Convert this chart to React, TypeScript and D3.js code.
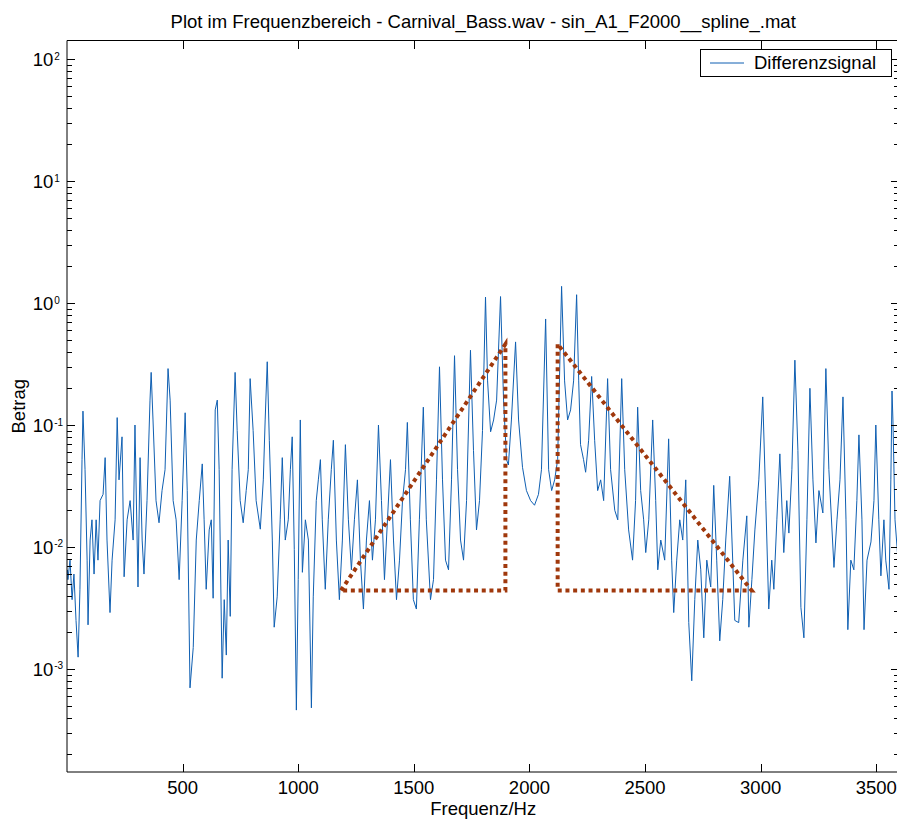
import * as d3 from 'd3';
import { useEffect, useRef } from 'react';

// Spectrum of the difference signal (Hz / magnitude)
const frequenz = [
  2, 4, 13, 22, 30, 39, 48, 56, 65, 69,
  78, 87, 91, 100, 108, 117, 126, 134, 143, 156,
  165, 173, 186, 195, 208, 217, 225, 238, 247, 260,
  273, 286, 294, 307, 316, 325, 333, 346, 359, 364,
  372, 385, 398, 411, 424, 437, 446, 459, 472, 485,
  498, 511, 520, 532, 546, 559, 572, 585, 593, 602,
  615, 624, 632, 641, 650, 658, 671, 680, 689, 697,
  706, 714, 727, 736, 749, 762, 775, 784, 792, 805,
  818, 836, 849, 857, 866, 875, 888, 896, 909, 922,
  931, 944, 957, 966, 974, 983, 992, 1000, 1009, 1018,
  1031, 1044, 1057, 1065, 1078, 1087, 1096, 1104, 1117, 1130,
  1143, 1152, 1165, 1178, 1191, 1204, 1217, 1230, 1243, 1256,
  1269, 1282, 1295, 1308, 1321, 1334, 1347, 1360, 1373, 1386,
  1399, 1412, 1425, 1438, 1451, 1464, 1472, 1485, 1498, 1511,
  1524, 1541, 1554, 1572, 1585, 1598, 1611, 1624, 1637, 1650,
  1663, 1676, 1689, 1702, 1715, 1728, 1745, 1758, 1771, 1784,
  1797, 1810, 1819, 1832, 1845, 1858, 1875, 1888, 1901, 1909,
  1922, 1940, 1953, 1970, 1987, 2005, 2022, 2039, 2052, 2070,
  2083, 2096, 2109, 2122, 2139, 2152, 2165, 2178, 2191, 2204,
  2213, 2221, 2234, 2243, 2256, 2269, 2282, 2295, 2308, 2321,
  2338, 2351, 2369, 2382, 2399, 2412, 2429, 2446, 2459, 2468,
  2481, 2494, 2503, 2516, 2533, 2546, 2555, 2568, 2585, 2602,
  2615, 2624, 2637, 2650, 2663, 2676, 2689, 2702, 2715, 2728,
  2741, 2754, 2767, 2784, 2797, 2810, 2823, 2836, 2849, 2866,
  2879, 2888, 2905, 2923, 2940, 2949, 2962, 2975, 2992, 3009,
  3022, 3035, 3048, 3057, 3070, 3083, 3100, 3113, 3122, 3135,
  3148, 3161, 3174, 3187, 3200, 3213, 3226, 3239, 3252, 3269,
  3282, 3295, 3317, 3330, 3343, 3356, 3369, 3377, 3390, 3403,
  3416, 3425, 3438, 3447, 3460, 3477, 3490, 3498, 3511, 3520,
  3533, 3541, 3555, 3563, 3568, 3572, 3581, 3594,
];

const betrag = [
  0.0065, 0.0054, 0.0078, 0.0037, 0.006, 0.0025, 0.00125, 0.0045, 0.052, 0.13,
  0.043, 0.0078, 0.0023, 0.0114, 0.0167, 0.006, 0.0167, 0.0078, 0.024, 0.027,
  0.054, 0.0114, 0.0029, 0.0078, 0.0167, 0.115, 0.0355, 0.08, 0.0057, 0.0167,
  0.024, 0.0114, 0.1, 0.0047, 0.054, 0.0114, 0.006, 0.024, 0.16, 0.27,
  0.11, 0.024, 0.0158, 0.029, 0.043, 0.29, 0.16, 0.024, 0.0167, 0.0054,
  0.024, 0.126, 0.029, 0.0007, 0.0015, 0.0114, 0.024, 0.048, 0.0167, 0.0045,
  0.0138, 0.0167, 0.0038, 0.133, 0.16, 0.043, 0.00084, 0.0037, 0.0013, 0.0114,
  0.0027, 0.043, 0.27, 0.09, 0.024, 0.0158, 0.029, 0.043, 0.24, 0.09,
  0.024, 0.014, 0.0355, 0.11, 0.33, 0.075, 0.0114, 0.0022, 0.0039, 0.0167,
  0.054, 0.0114, 0.0167, 0.043, 0.08, 0.0095, 0.00046, 0.0054, 0.11, 0.0062,
  0.0167, 0.0114, 0.00048, 0.0039, 0.024, 0.0355, 0.052, 0.0167, 0.0045, 0.0167,
  0.043, 0.075, 0.0114, 0.0037, 0.0114, 0.069, 0.0167, 0.0065, 0.0167, 0.0355,
  0.0078, 0.0031, 0.0114, 0.024, 0.0078, 0.0167, 0.1, 0.024, 0.0054, 0.0167,
  0.052, 0.0114, 0.0037, 0.0078, 0.024, 0.043, 0.105, 0.0167, 0.0037, 0.0031,
  0.0167, 0.14, 0.0167, 0.0037, 0.0054, 0.0355, 0.3, 0.0355, 0.0078, 0.0065,
  0.0355, 0.37, 0.043, 0.0114, 0.0078, 0.024, 0.41, 0.062, 0.0138, 0.024,
  0.09, 1.12, 0.23, 0.088, 0.11, 0.16, 1.13, 0.16, 0.052, 0.047,
  0.11, 0.48, 0.11, 0.045, 0.029, 0.024, 0.022, 0.027, 0.043, 0.74,
  0.043, 0.029, 0.0355, 0.052, 1.37, 0.23, 0.11, 0.133, 0.23, 1.17,
  0.23, 0.069, 0.052, 0.041, 0.075, 0.25, 0.075, 0.029, 0.0355, 0.024,
  0.24, 0.043, 0.02, 0.0167, 0.24, 0.043, 0.0138, 0.0078, 0.024, 0.14,
  0.029, 0.0167, 0.009, 0.0167, 0.11, 0.024, 0.0065, 0.0114, 0.0078, 0.077,
  0.0078, 0.0029, 0.0078, 0.0167, 0.0114, 0.0355, 0.0024, 0.0008, 0.0037, 0.0114,
  0.0065, 0.0018, 0.0078, 0.0047, 0.032, 0.0078, 0.0017, 0.0037, 0.0114, 0.038,
  0.0078, 0.0025, 0.0024, 0.0078, 0.018, 0.0022, 0.0054, 0.0138, 0.0355, 0.17,
  0.024, 0.0031, 0.0078, 0.0045, 0.0167, 0.058, 0.009, 0.024, 0.013, 0.043,
  0.34, 0.062, 0.0032, 0.0018, 0.0167, 0.2, 0.0355, 0.0108, 0.029, 0.019,
  0.29, 0.043, 0.0068, 0.0167, 0.0355, 0.17, 0.0167, 0.0021, 0.0078, 0.0065,
  0.024, 0.083, 0.0167, 0.0021, 0.0078, 0.011, 0.024, 0.1, 0.0167, 0.0058,
  0.0167, 0.0078, 0.0045, 0.0355, 0.19, 0.11, 0.0167, 0.0078,
];

// Dotted reference triangles
const linksHz = [1185, 1896, 1896, 1185];
const linksBetrag = [0.0044, 0.46, 0.0044, 0.0044];
const rechtsHz = [2122, 2122, 2961, 2122];
const rechtsBetrag = [0.46, 0.0044, 0.0044, 0.46];

// Axis ticks and limits
const xTicks = [500, 1000, 1500, 2000, 2500, 3000, 3500];
const yDecades = [-3, -2, -1, 0, 1, 2];
const xLimits = [0, 3600];
const yLimits = [1.43e-4, 142];

export default function App() {
  const chartRef = useRef<SVGSVGElement>(null);

  const width = 897;
  const height = 824;
  const plot = { left: 67, top: 40.5, right: 899.4, bottom: 772 };
  const font = "'Liberation Sans', Arial, Helvetica, sans-serif";

  useEffect(() => {
    const svg = d3.select(chartRef.current);
    svg.selectAll('*').remove();

    const x = d3.scaleLinear().domain(xLimits).range([plot.left, plot.right]);
    const y = d3.scaleLog().domain(yLimits).range([plot.bottom, plot.top]);

    svg.append('rect').attr('width', width).attr('height', height).attr('fill', '#fff');

    svg
      .append('clipPath')
      .attr('id', 'plotClip')
      .append('rect')
      .attr('x', plot.left)
      .attr('y', plot.top)
      .attr('width', plot.right - plot.left)
      .attr('height', plot.bottom - plot.top);

    // Signal line
    const points = frequenz.map((f, i) => [f, betrag[i]] as [number, number]);
    const line = d3
      .line<[number, number]>()
      .x((d) => x(d[0]))
      .y((d) => y(d[1]));

    svg
      .append('path')
      .attr('clip-path', 'url(#plotClip)')
      .attr('d', line(points))
      .attr('fill', 'none')
      .attr('stroke', '#0f5fb2')
      .attr('stroke-width', 1);

    // Dotted triangles
    const tri = [
      linksHz.map((f, i) => [f, linksBetrag[i]] as [number, number]),
      rechtsHz.map((f, i) => [f, rechtsBetrag[i]] as [number, number]),
    ];
    tri.forEach((t) => {
      svg
        .append('path')
        .attr('d', line(t))
        .attr('fill', 'none')
        .attr('stroke', '#a0380c')
        .attr('stroke-width', 4)
        .attr('stroke-dasharray', '4 3.7');
    });

    // Axes box
    const box = svg.append('g').attr('stroke', '#000').attr('fill', 'none');
    box.append('line').attr('x1', plot.left).attr('x2', plot.left).attr('y1', plot.top).attr('y2', plot.bottom);
    box.append('line').attr('x1', plot.left).attr('x2', plot.right).attr('y1', plot.bottom).attr('y2', plot.bottom);
    box.append('line').attr('x1', plot.left).attr('x2', plot.right).attr('y1', plot.top).attr('y2', plot.top);
    box.append('line').attr('x1', plot.right).attr('x2', plot.right).attr('y1', plot.top).attr('y2', plot.bottom);

    // Ticks
    const ticks = svg
      .append('g')
      .attr('stroke', '#000')
      .attr('stroke-width', 1)
      .attr('shape-rendering', 'crispEdges');

    xTicks.forEach((t) => {
      const px = Math.round(x(t)) + 0.5;
      ticks.append('line').attr('x1', px).attr('x2', px).attr('y1', plot.bottom).attr('y2', plot.bottom - 8);
      ticks.append('line').attr('x1', px).attr('x2', px).attr('y1', plot.top).attr('y2', plot.top + 8);
    });

    d3.range(-4, 3).forEach((dec) => {
      d3.range(1, 10).forEach((m) => {
        const v = m * Math.pow(10, dec);
        if (v < yLimits[0] || v > yLimits[1]) return;
        const len = m === 1 ? 8 : 5;
        const py = Math.round(y(v)) + 0.5;
        ticks.append('line').attr('x1', plot.left).attr('x2', plot.left + len).attr('y1', py).attr('y2', py);
        ticks.append('line').attr('x1', plot.right).attr('x2', plot.right - len).attr('y1', py).attr('y2', py);
      });
    });

    // Tick labels
    const labels = svg.append('g').attr('font-family', font).attr('fill', '#000');

    xTicks.forEach((t) => {
      labels
        .append('text')
        .attr('x', x(t))
        .attr('y', 794)
        .attr('text-anchor', 'middle')
        .attr('font-size', 18.5)
        .text(t);
    });

    yDecades.forEach((dec) => {
      const py = y(Math.pow(10, dec));
      const txt = labels.append('text').attr('x', 32.7).attr('y', py + 7);
      txt.append('tspan').attr('font-size', 18.5).text('10');
      txt
        .append('tspan')
        .attr('font-size', 10)
        .attr('dx', 1)
        .attr('dy', -6.5)
        .text(dec);
    });

    // Axis labels and title
    labels
      .append('text')
      .attr('x', (plot.left + plot.right) / 2)
      .attr('y', 28)
      .attr('text-anchor', 'middle')
      .attr('font-size', 18.5)
      .text('Plot im Frequenzbereich - Carnival_Bass.wav - sin_A1_F2000__spline_.mat');

    labels
      .append('text')
      .attr('x', (plot.left + plot.right) / 2)
      .attr('y', 815)
      .attr('text-anchor', 'middle')
      .attr('font-size', 18.5)
      .text('Frequenz/Hz');

    labels
      .append('text')
      .attr('transform', `translate(25, ${(plot.top + plot.bottom) / 2}) rotate(-90)`)
      .attr('text-anchor', 'middle')
      .attr('font-size', 18.5)
      .text('Betrag');

    // Legend
    const legend = svg.append('g');
    legend
      .append('rect')
      .attr('x', 700.5)
      .attr('y', 49.5)
      .attr('width', 191)
      .attr('height', 27)
      .attr('fill', '#fff')
      .attr('stroke', '#000')
      .attr('stroke-width', 1);
    legend
      .append('line')
      .attr('x1', 710)
      .attr('x2', 744)
      .attr('y1', 63)
      .attr('y2', 63)
      .attr('stroke', '#0f5fb2')
      .attr('stroke-width', 1);
    legend
      .append('text')
      .attr('x', 754)
      .attr('y', 68.5)
      .attr('font-family', font)
      .attr('font-size', 18.5)
      .text('Differenzsignal');
  }, []);

  return (
    <svg
      ref={chartRef}
      width={width}
      height={height}
      style={{ position: 'absolute', left: 0, top: 0 }}
    />
  );
}
